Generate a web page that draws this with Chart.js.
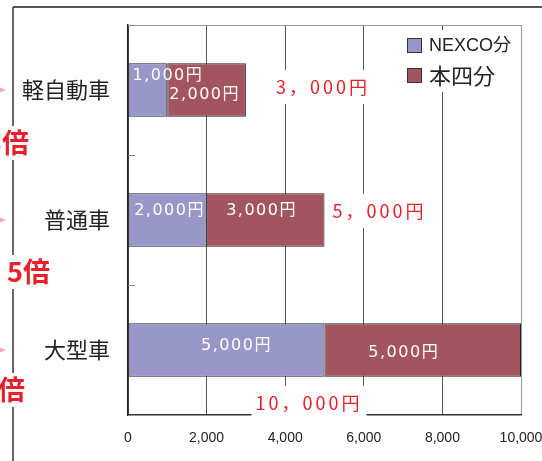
<!DOCTYPE html>
<html lang="ja">
<head>
  <meta charset="UTF-8" />
  <title>料金内訳</title>
  <script src="https://cdn.jsdelivr.net/npm/chart.js@4.4.1/dist/chart.umd.min.js"></script>
  <style>
    html,body{margin:0;padding:0;background:#fff}
    #wrap{width:542px;height:461px;position:relative}
  </style>
</head>
<body>
<div id="wrap"><canvas id="chart" width="542" height="461"></canvas></div>
<script>
  const categories = ['軽自動車', '普通車', '大型車'];
  const seriesNames = ['NEXCO分', '本四分'];
  const nexcoValues = [1000, 2000, 5000];
  const honshiValues = [2000, 3000, 5000];
  const totalValues = [3000, 5000, 10000];
  const xTickValues = [0, 2000, 4000, 6000, 8000, 10000];
  const ratioNotes = ['3倍', '5倍', '倍'];

  const JP = '"Noto Sans CJK JP", "Noto Sans", sans-serif';
  const NUM = '"DejaVu Sans", "Noto Sans CJK JP", sans-serif';
  const LAT = '"Liberation Sans", "Noto Sans CJK JP", sans-serif';
  const yen = v => v.toLocaleString('en-US') + '円';
  const yenWide = v => v.toLocaleString('en-US').replace(/,/g, '，') + '円';

  // hand tweaks for where the labels sit, relative to each bar
  const innerShift = [
    [[20, -14], [-2, 5]],
    [[2, -9], [-4, -9]],
    [[10, -4], [-19, 3]]
  ];
  const totalShift = [[77, -3], [55, -9], [-212, 53]];
  const notePos = [[29, 143], [50, 272], [25, 390]];

  const decor = {
    id: 'decor',
    afterDatasetsDraw(chart) {
      const ctx = chart.ctx, a = chart.chartArea, ys = chart.scales.y;
      ctx.save();
      // top frame of plot
      ctx.strokeStyle = '#999'; ctx.lineWidth = 1;
      ctx.beginPath(); ctx.moveTo(a.left, a.top + 0.5); ctx.lineTo(a.right, a.top + 0.5); ctx.stroke();
      // small ticks between categories
      const band = ys.getPixelForValue(1) - ys.getPixelForValue(0);
      ctx.strokeStyle = '#888';
      for (let i = 0; i < categories.length; i++) {
        const y = Math.round(ys.getPixelForValue(i) - band / 2) + 0.5;
        ctx.beginPath(); ctx.moveTo(a.left, y); ctx.lineTo(a.left + 7, y); ctx.stroke();
      }
      // labels inside bars
      ctx.fillStyle = '#fff';
      ctx.font = '16px ' + NUM;
      ctx.letterSpacing = '1.5px';
      ctx.textAlign = 'center'; ctx.textBaseline = 'middle';
      chart.data.datasets.forEach((ds, d) => {
        chart.getDatasetMeta(d).data.forEach((bar, i) => {
          const cx = (bar.x + bar.base) / 2, s = innerShift[i][d];
          ctx.fillText(yen(ds.data[i]), cx + s[0], bar.y + s[1]);
        });
      });
      // totals in red with white box
      const top = chart.getDatasetMeta(1).data;
      ctx.font = '18px ' + JP;
      ctx.letterSpacing = '3px';
      totalValues.forEach((t, i) => {
        const txt = yenWide(t);
        const x = top[i].x + totalShift[i][0], y = top[i].y + totalShift[i][1];
        const w = ctx.measureText(txt).width;
        ctx.fillStyle = '#fff';
        ctx.fillRect(x - w / 2 - 4, y - 17, w + 8, 34);
        ctx.fillStyle = '#e8202a';
        ctx.fillText(txt, x, y);
      });
      ctx.letterSpacing = '0px';
      // legend
      ctx.fillStyle = '#fff';
      ctx.fillRect(400, 30, 118, 62);
      const colors = chart.data.datasets.map(ds => ds.backgroundColor);
      const legRows = [[38, '18px ' + LAT], [68, '22px ' + JP]];
      seriesNames.forEach((n, k) => {
        const y = legRows[k][0];
        ctx.fillStyle = colors[k];
        ctx.fillRect(407.5, y + 0.5, 14, 14);
        ctx.strokeStyle = '#333';
        ctx.strokeRect(407.5, y + 0.5, 14, 14);
        ctx.fillStyle = '#222';
        ctx.font = legRows[k][1];
        ctx.textAlign = 'left';
        ctx.fillText(n, 429, y + 8);
      });
      // left frame, arrows and ratio notes
      ctx.strokeStyle = '#555'; ctx.lineWidth = 2;
      ctx.beginPath(); ctx.moveTo(13, 7); ctx.lineTo(542, 7); ctx.stroke();
      ctx.strokeStyle = '#333'; ctx.lineWidth = 1.5;
      ctx.beginPath(); ctx.moveTo(13, 7); ctx.lineTo(13, 461); ctx.stroke();
      ctx.fillStyle = '#f4a9b3';
      categories.forEach((c, i) => {
        const y = ys.getPixelForValue(i);
        ctx.beginPath(); ctx.moveTo(-4, y - 4); ctx.lineTo(6, y); ctx.lineTo(-4, y + 4); ctx.closePath(); ctx.fill();
      });
      ctx.font = 'bold 27px ' + JP;
      ctx.textAlign = 'right';
      ratioNotes.forEach((t, i) => {
        const [x, y] = notePos[i];
        ctx.fillStyle = '#fff';
        ctx.fillRect(0, y - 17, x + 2, 34);
        ctx.fillStyle = '#e8202a';
        ctx.fillText(t, x, y);
      });
      ctx.restore();
    }
  };

  new Chart(document.getElementById('chart'), {
    type: 'bar',
    data: {
      labels: categories,
      datasets: [
        { label: seriesNames[0], data: nexcoValues, backgroundColor: '#9996c8' },
        { label: seriesNames[1], data: honshiValues, backgroundColor: '#a3555f' }
      ]
    },
    options: {
      indexAxis: 'y',
      responsive: false,
      animation: false,
      datasets: { bar: { borderColor: '#222', borderWidth: 1, borderSkipped: false, barPercentage: 0.41, categoryPercentage: 1 } },
      layout: { padding: { left: 0, top: 25, right: 21, bottom: 0 } },
      plugins: { legend: { display: false }, tooltip: { enabled: false } },
      scales: {
        x: {
          stacked: true, min: 0, max: 10000,
          afterBuildTicks: s => { s.ticks = xTickValues.map(v => ({ value: v })); },
          afterFit: s => { s.height = 46; s.paddingLeft = 0; s.paddingRight = 0; },
          grid: { color: c => c.tick && c.tick.value === 10000 ? '#999' : '#555', drawTicks: false },
          border: { color: '#333', width: 1.5 },
          ticks: { padding: 15, color: '#222', font: { family: '"Liberation Sans", Arial, sans-serif', size: 14 },
                   callback: v => v.toLocaleString('en-US') }
        },
        y: {
          stacked: true,
          afterFit: s => { s.width = 128; s.paddingTop = 0; s.paddingBottom = 0; },
          grid: { display: false, drawTicks: false },
          border: { color: '#222', width: 1.5 },
          ticks: { padding: 18, color: '#222', font: { family: JP, size: 22 } }
        }
      }
    },
    plugins: [decor]
  });
</script>
</body>
</html>
